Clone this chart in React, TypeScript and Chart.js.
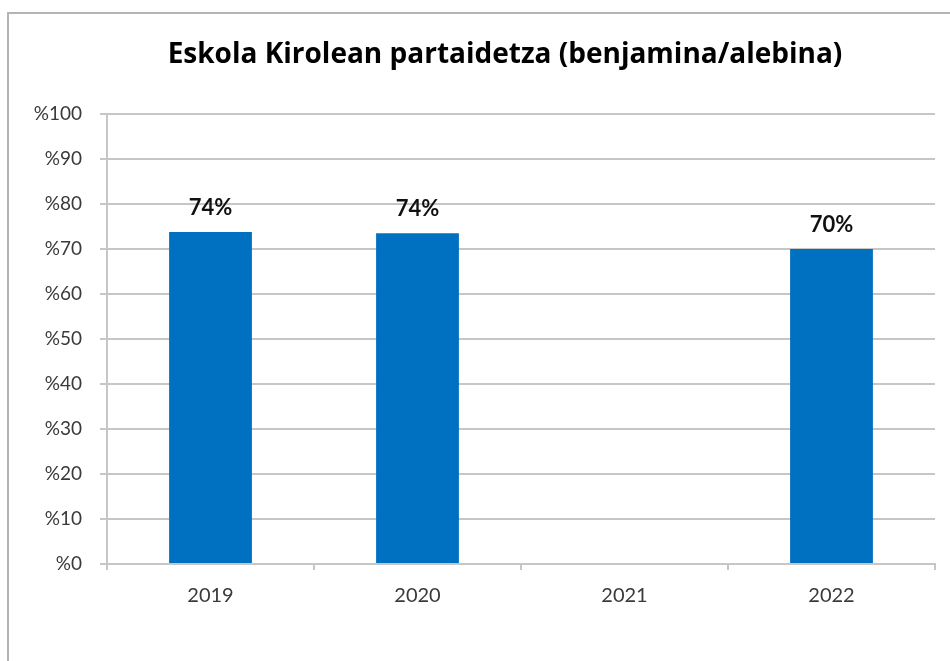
import React, { useEffect, useRef } from "react";
import { Chart, registerables } from "chart.js";

Chart.register(...registerables);

const TITLE = "Eskola Kirolean partaidetza (benjamina/alebina)";
const categories = ["2019", "2020", "2021", "2022"];
const participation: (number | null)[] = [73.8, 73.5, null, 70];
const yTicks = [0, 10, 20, 30, 40, 50, 60, 70, 80, 90, 100];

const GRID = "#c6c6c6";
const TEXT = "#3a3a3a";
const BAR = "#0070C0";
const FONT = "Lato, 'Noto Sans', sans-serif";
const TITLE_FONT = "'Open Sans', Lato, sans-serif";

const frame = {
  id: "frame",
  beforeDraw(chart: any) {
    const ctx = chart.ctx;
    ctx.save();
    ctx.strokeStyle = "#b4b4b4";
    ctx.lineWidth = 2;
    ctx.beginPath();
    ctx.moveTo(8, chart.height);
    ctx.lineTo(8, 13);
    ctx.lineTo(chart.width, 13);
    ctx.stroke();
    ctx.font = `bold 28px ${TITLE_FONT}`;
    ctx.fillStyle = "#000";
    ctx.textAlign = "center";
    ctx.textBaseline = "middle";
    ctx.fillText(TITLE, 505, 55);
    ctx.restore();
  },
};

const valueLabels = {
  id: "valueLabels",
  afterDatasetsDraw(chart: any) {
    const ctx = chart.ctx;
    const meta = chart.getDatasetMeta(0);
    ctx.save();
    ctx.font = `bold 22px ${FONT}`;
    ctx.fillStyle = "#111";
    ctx.textAlign = "center";
    ctx.textBaseline = "alphabetic";
    meta.data.forEach((el: any, i: number) => {
      const v = participation[i];
      if (v == null) return;
      ctx.fillText(`${Math.round(v)}%`, el.x, el.y - 17);
    });
    ctx.restore();
  },
};

export default function App() {
  const ref = useRef<HTMLCanvasElement>(null);
  useEffect(() => {
    if (!ref.current) return;
    const chart = new Chart(ref.current, {
      type: "bar",
      data: {
        labels: categories,
        datasets: [
          {
            data: participation,
            backgroundColor: BAR,
            borderWidth: 0,
            categoryPercentage: 1,
            barPercentage: 0.4,
          },
        ],
      },
      options: {
        animation: false,
        responsive: false,
        maintainAspectRatio: false,
        layout: { padding: { left: 0, right: 15, top: 114, bottom: 0 } },
        plugins: {
          legend: { display: false },
          tooltip: { enabled: false },
          title: { display: false },
        },
        scales: {
          x: {
            grid: {
              drawOnChartArea: false,
              drawTicks: true,
              tickLength: 6,
              color: GRID,
              lineWidth: 2,
            },
            border: { display: true, color: GRID, width: 2 },
            ticks: {
              color: TEXT,
              font: { family: FONT, size: 20 },
              padding: 14,
            },
            afterFit(scale: any) {
              scale.height = 97;
            },
          },
          y: {
            min: 0,
            max: 100,
            afterBuildTicks(scale: any) {
              scale.ticks = yTicks.map((v) => ({ value: v }));
            },
            grid: { color: GRID, lineWidth: 2, tickLength: 7 },
            border: { display: true, color: GRID, width: 2 },
            ticks: {
              color: TEXT,
              font: { family: FONT, size: 19 },
              padding: 18,
              callback: (v: any) => `%${v}`,
            },
            afterFit(scale: any) {
              scale.width = 107;
            },
          },
        },
      },
      plugins: [frame, valueLabels],
    });
    return () => chart.destroy();
  }, []);
  return (
    <div style={{ position: "absolute", left: 0, top: 0, width: 950, height: 661, background: "#fff" }}>
      <canvas ref={ref} width={950} height={661} />
    </div>
  );
}
